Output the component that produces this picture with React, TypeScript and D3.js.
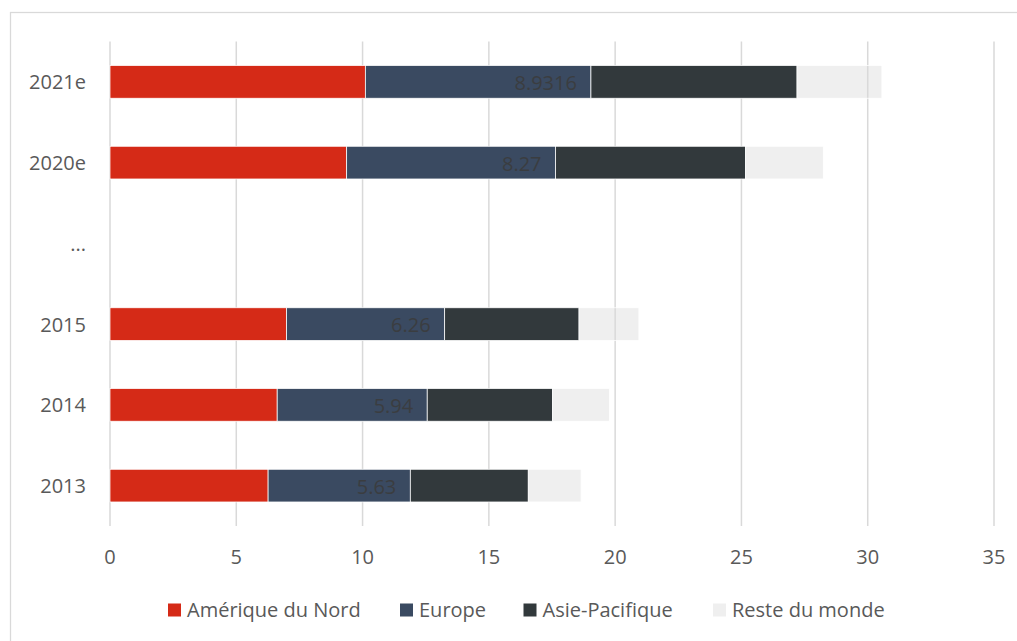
import { useEffect, useRef } from "react";
import * as d3 from "d3";

// Chart data
const categories = ["2021e", "2020e", "...", "2015", "2014", "2013"];
const amerique: (number | null)[] = [10.11, 9.37, null, 6.99, 6.62, 6.26];
const europe: (number | null)[] = [8.9316, 8.27, null, 6.26, 5.94, 5.63];
const asie: (number | null)[] = [8.16, 7.52, null, 5.32, 4.96, 4.67];
const reste: (number | null)[] = [3.36, 3.08, null, 2.37, 2.25, 2.09];
const seriesNames = ["Amérique du Nord", "Europe", "Asie-Pacifique", "Reste du monde"];
const xTicks = [0, 5, 10, 15, 20, 25, 30, 35];

const colors = ["#D52A17", "#3A4A61", "#32393C", "#D9D9D9"];
const opacities = [1, 1, 1, 0.42];

const width = 1017;
const height = 641;
const font = "'Open Sans', sans-serif";

export default function App() {
  const svgRef = useRef<SVGSVGElement>(null);

  useEffect(() => {
    const svg = d3.select(svgRef.current);
    svg.selectAll("*").remove();

    const xScale = d3.scaleLinear().domain([0, 35]).range([110, 994]);
    const yScale = d3
      .scaleBand()
      .domain(categories)
      .range([41.5, 526])
      .paddingInner(0.595)
      .paddingOuter(0.2975);

    // Chart border
    svg
      .append("rect")
      .attr("x", 10.5)
      .attr("y", 12.5)
      .attr("width", 1100)
      .attr("height", 700)
      .attr("fill", "#fff")
      .attr("stroke", "#D9D9D9")
      .attr("stroke-width", 1.25);

    // Gridlines
    svg
      .append("g")
      .selectAll("line")
      .data(xTicks)
      .join("line")
      .attr("x1", (d) => xScale(d))
      .attr("x2", (d) => xScale(d))
      .attr("y1", 41.5)
      .attr("y2", 526)
      .attr("stroke", "#D9D9D9")
      .attr("stroke-width", 1.5);

    // X tick labels
    svg
      .append("g")
      .selectAll("text")
      .data(xTicks)
      .join("text")
      .attr("x", (d) => xScale(d))
      .attr("y", 564)
      .attr("text-anchor", "middle")
      .attr("font-family", font)
      .attr("font-size", 20)
      .attr("fill", "#595959")
      .text((d) => d);

    // Y category labels
    svg
      .append("g")
      .selectAll("text")
      .data(categories)
      .join("text")
      .attr("x", 86)
      .attr("y", (d) => (yScale(d) as number) + yScale.bandwidth() / 2 + 7.6)
      .attr("text-anchor", "end")
      .attr("font-family", font)
      .attr("font-size", 20)
      .attr("fill", "#595959")
      .text((d) => d);

    // Stacked bars
    const series = [amerique, europe, asie, reste];
    const stacked = categories.map((c, i) => {
      let x0 = 0;
      return series.map((s, k) => {
        const v = s[i] ?? 0;
        const seg = { cat: c, k, x0, x1: x0 + v, v: s[i] };
        x0 += v;
        return seg;
      });
    });

    series.forEach((_, k) => {
      svg
        .append("g")
        .selectAll("rect")
        .data(stacked.map((row) => row[k]).filter((d) => d.v != null))
        .join("rect")
        .attr("x", (d) => xScale(d.x0))
        .attr("width", (d) => xScale(d.x1) - xScale(d.x0))
        .attr("y", (d) => yScale(d.cat) as number)
        .attr("height", yScale.bandwidth())
        .attr("fill", colors[k])
        .attr("fill-opacity", opacities[k])
        .attr("stroke", "#fff")
        .attr("stroke-width", 0.75);
    });

    // Data labels on Europe segment (inside end)
    svg
      .append("g")
      .selectAll("text")
      .data(stacked.map((row) => row[1]).filter((d) => d.v != null))
      .join("text")
      .attr("x", (d) => xScale(d.x1) - 14)
      .attr("y", (d) => (yScale(d.cat) as number) + yScale.bandwidth() / 2 + 8)
      .attr("text-anchor", "end")
      .attr("font-family", font)
      .attr("font-size", 20)
      .attr("fill", "#3A3D40")
      .text((d) => String(d.v));

    // Legend
    const legendX = [168, 400, 523.5, 713];
    const legend = svg
      .append("g")
      .selectAll("g")
      .data(seriesNames)
      .join("g")
      .attr("transform", (_, i) => `translate(${legendX[i]}, 603.5)`);

    legend
      .append("rect")
      .attr("width", 13)
      .attr("height", 13)
      .attr("fill", (_, i) => colors[i])
      .attr("fill-opacity", (_, i) => opacities[i]);

    legend
      .append("text")
      .attr("x", 19)
      .attr("y", 13)
      .attr("font-family", font)
      .attr("font-size", 20)
      .attr("fill", "#595959")
      .text((d) => d);
  }, []);

  return (
    <svg
      ref={svgRef}
      width={width}
      height={height}
      style={{ position: "absolute", left: 0, top: 0 }}
    />
  );
}
